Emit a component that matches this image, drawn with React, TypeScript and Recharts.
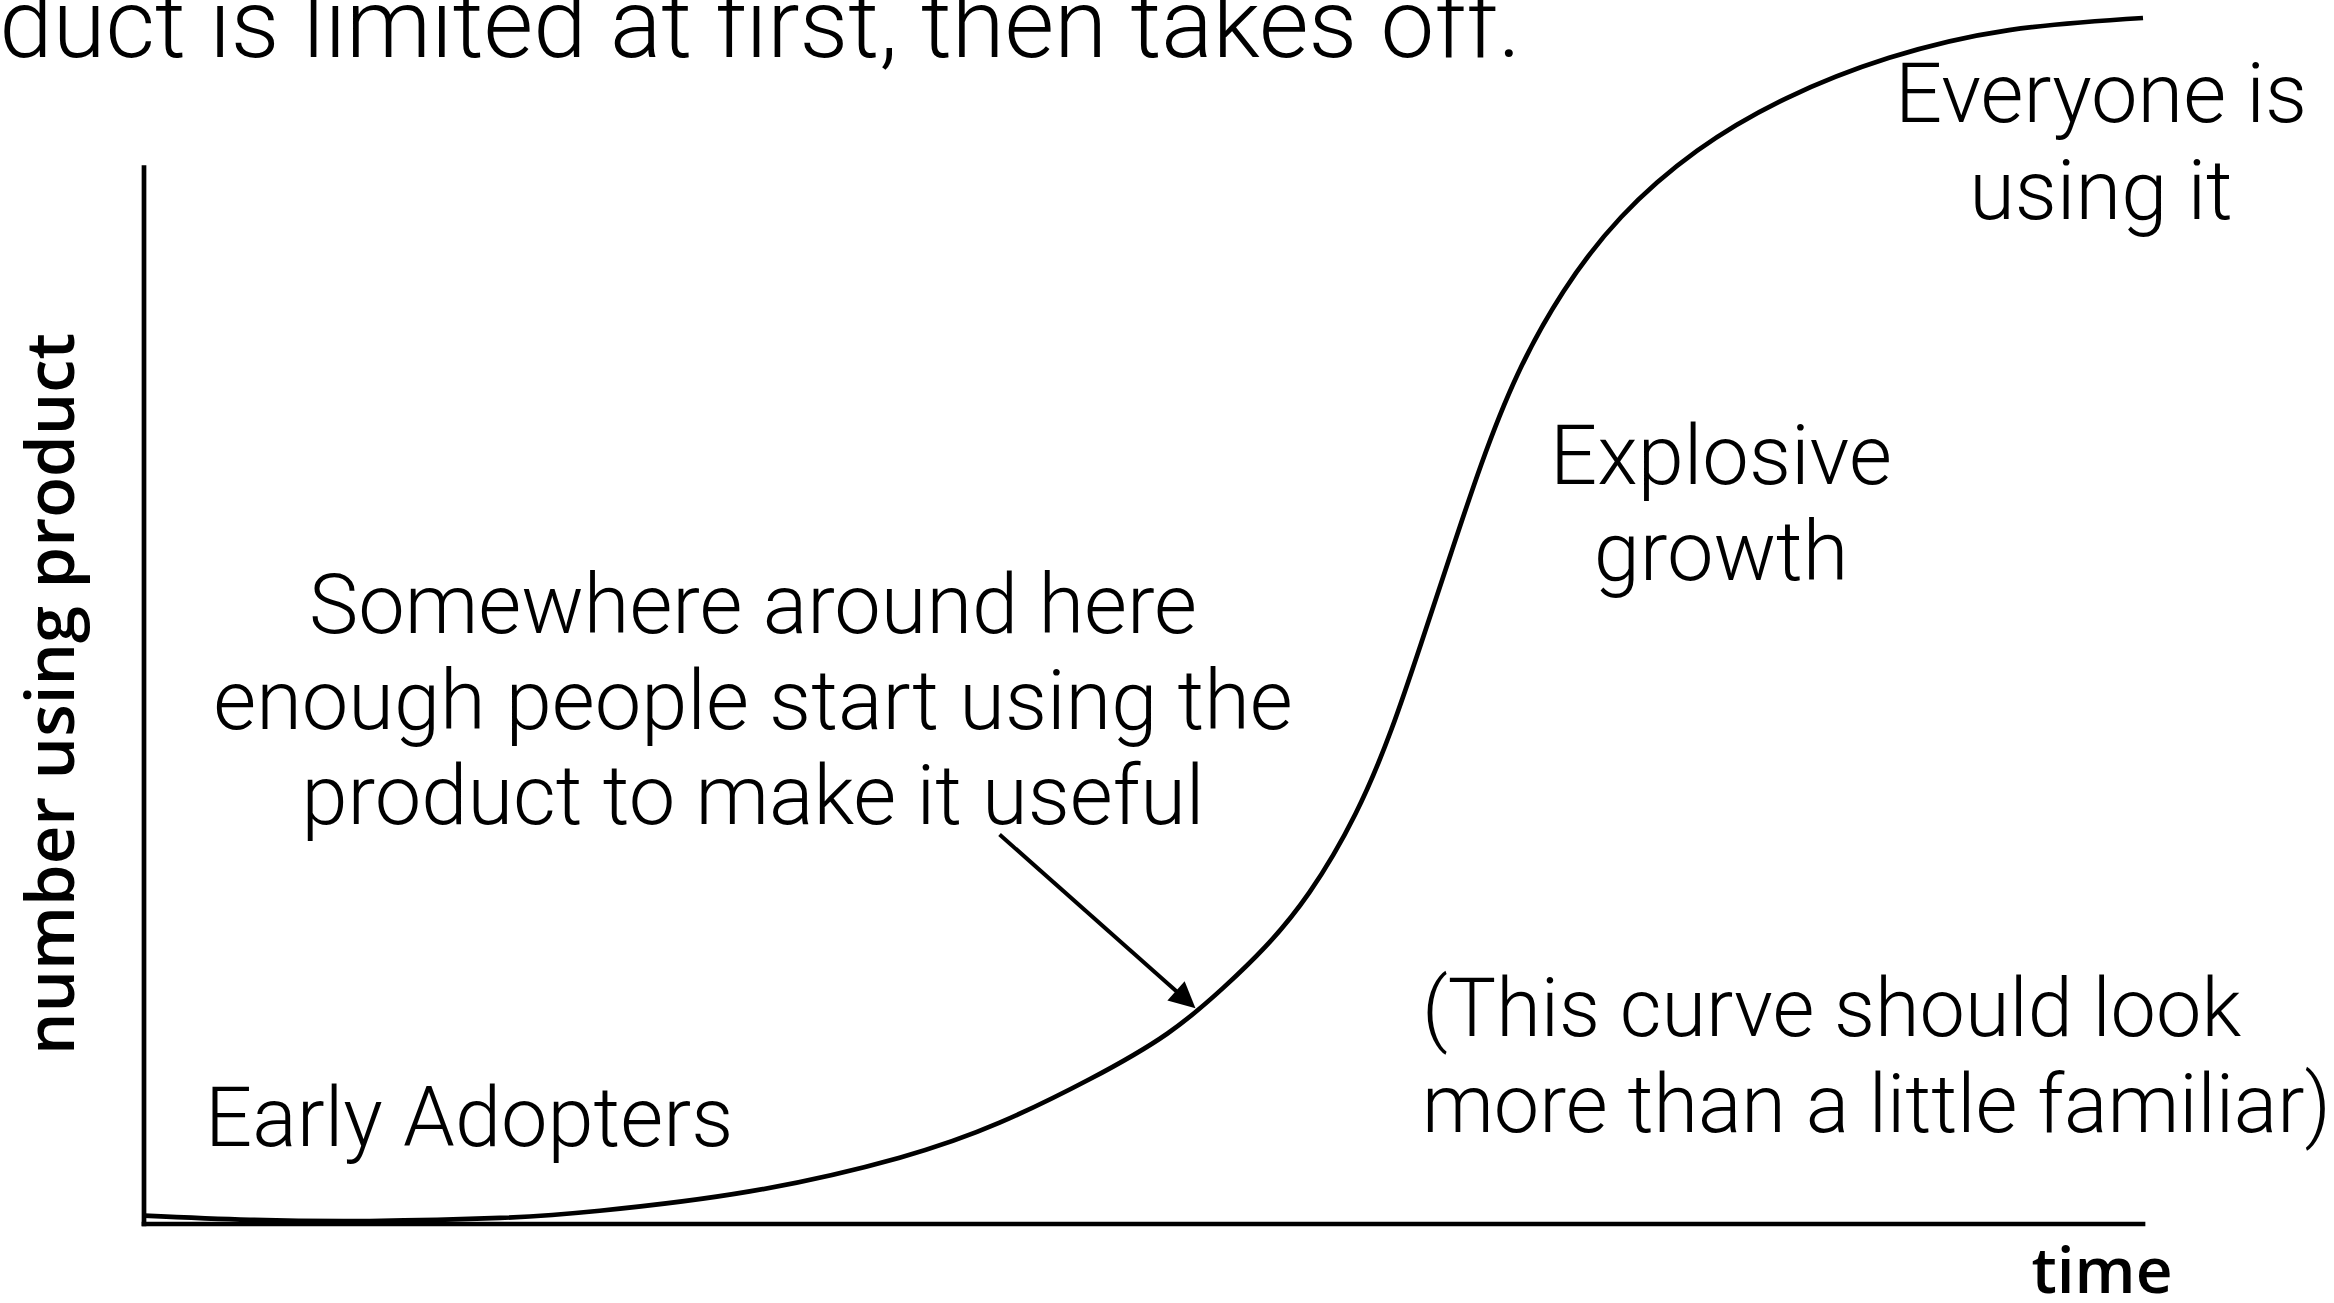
import React from 'react';
import { LineChart, Line, XAxis, YAxis, ReferenceLine } from 'recharts';

// adoption curve, time (0-100) vs share of people using the product (0-100)
const timeSteps = [0, 5.3, 11.3, 17.8, 22.8, 30.3, 37.8, 42.8, 47.3, 51.2, 54.0, 56.1, 58.3, 60.6, 62.4, 63.9, 65.4, 66.9, 68.7, 71.0, 73.9, 77.7, 82.1, 87.3, 93.3, 100];
const usersValues = [0.7, 0.35, 0.25, 0.5, 1.1, 2.7, 5.5, 8.4, 12.0, 15.8, 19.6, 23.0, 27.5, 34.0, 41.0, 48.2, 55.7, 63.0, 70.4, 77.3, 83.5, 89.0, 93.3, 96.7, 99.0, 100];

// pointer from the "useful" note down to the curve
const arrowFrom = { t: 42.8, u: 32.3 };
const arrowTo = { t: 52.6, u: 17.9 };
const yAxisTop = 87.6;

const curve = timeSteps.map((t, i) => ({ t, u: usersValues[i] }));

const W = 2334;
const H = 1303;
const INK = '#000';
const BODY_FONT = "Roboto, 'Liberation Sans', Arial, sans-serif";
const AXIS_FONT = "'Open Sans', 'Noto Sans', sans-serif";

const ArrowShape = (props: any) => {
    const { x1, y1, x2, y2 } = props;
    const ang = Math.atan2(y2 - y1, x2 - x1);
    const len = 26;
    const half = 13;
    const bx = x2 - len * Math.cos(ang);
    const by = y2 - len * Math.sin(ang);
    const nx = -Math.sin(ang);
    const ny = Math.cos(ang);
    return (
        <g>
            <line x1={x1} y1={y1} x2={bx + 2 * Math.cos(ang)} y2={by + 2 * Math.sin(ang)} stroke={INK} strokeWidth={4} />
            <polygon
                points={`${x2},${y2} ${bx + nx * half},${by + ny * half} ${bx - nx * half},${by - ny * half}`}
                fill={INK}
            />
        </g>
    );
};

const AxisLine = (props: any) => {
    const { x1, y1, x2, y2 } = props;
    return <line x1={x1} y1={y1} x2={x2} y2={y2} stroke={INK} strokeWidth={4.7} strokeLinecap="square" />;
};

const bodyText = { fontFamily: BODY_FONT, fontWeight: 300, fontSize: 83, fill: INK } as const;

const Annotations = () => (
    <svg width={W} height={H} style={{ position: 'absolute', left: 0, top: 0, pointerEvents: 'none' }}>
        {/* slide heading, running off the left edge */}
        <text x={1521} y={57} textAnchor="end" {...bodyText} fontSize={96}>
            duct is limited at first, then takes off.
        </text>

        <text textAnchor="middle" {...bodyText}>
            <tspan x={2101} y={122}>Everyone is</tspan>
            <tspan x={2101} y={219}>using it</tspan>
        </text>

        <text textAnchor="middle" {...bodyText}>
            <tspan x={1721} y={484}>Explosive</tspan>
            <tspan x={1721} y={580}>growth</tspan>
        </text>

        <text textAnchor="middle" {...bodyText}>
            <tspan x={753} y={633}>Somewhere around here</tspan>
            <tspan x={753} y={729}>enough people start using the</tspan>
            <tspan x={753} y={824}>product to make it useful</tspan>
        </text>

        <text textAnchor="start" {...bodyText} fontSize={81}>
            <tspan x={1422} y={1036}>(This curve should look</tspan>
            <tspan x={1422} y={1132}>more than a little familiar)</tspan>
        </text>

        <text x={205} y={1146} textAnchor="start" {...bodyText}>
            Early Adopters
        </text>

        {/* axis titles */}
        <text
            x={74}
            y={694}
            transform="rotate(-90 74 694)"
            textAnchor="middle"
            fontFamily={AXIS_FONT}
            fontWeight={600}
            fontSize={67}
            fill={INK}
        >
            number using product
        </text>
        <text x={2102} y={1293} textAnchor="middle" fontFamily={AXIS_FONT} fontWeight={600} fontSize={64} fill={INK}>
            time
        </text>
    </svg>
);

const App: React.FC = () => {
    return (
        <div style={{ position: 'absolute', left: 0, top: 0, width: W, height: H, background: '#fff', overflow: 'hidden' }}>
            <LineChart width={W} height={H} data={curve} margin={{ top: 18, right: 191, bottom: 79, left: 144 }}>
                <XAxis type="number" dataKey="t" domain={[0, 100]} hide />
                <YAxis type="number" domain={[0, 100]} hide />
                <ReferenceLine segment={[{ x: 0, y: 0 }, { x: 100, y: 0 }]} shape={AxisLine} />
                <ReferenceLine segment={[{ x: 0, y: 0 }, { x: 0, y: yAxisTop }]} shape={AxisLine} />
                <ReferenceLine
                    segment={[{ x: arrowFrom.t, y: arrowFrom.u }, { x: arrowTo.t, y: arrowTo.u }]}
                    shape={ArrowShape}
                />
                <Line
                    type="natural"
                    dataKey="u"
                    stroke={INK}
                    strokeWidth={4.7}
                    dot={false}
                    activeDot={false}
                    isAnimationActive={false}
                />
            </LineChart>
            <Annotations />
        </div>
    );
};

export default App;
